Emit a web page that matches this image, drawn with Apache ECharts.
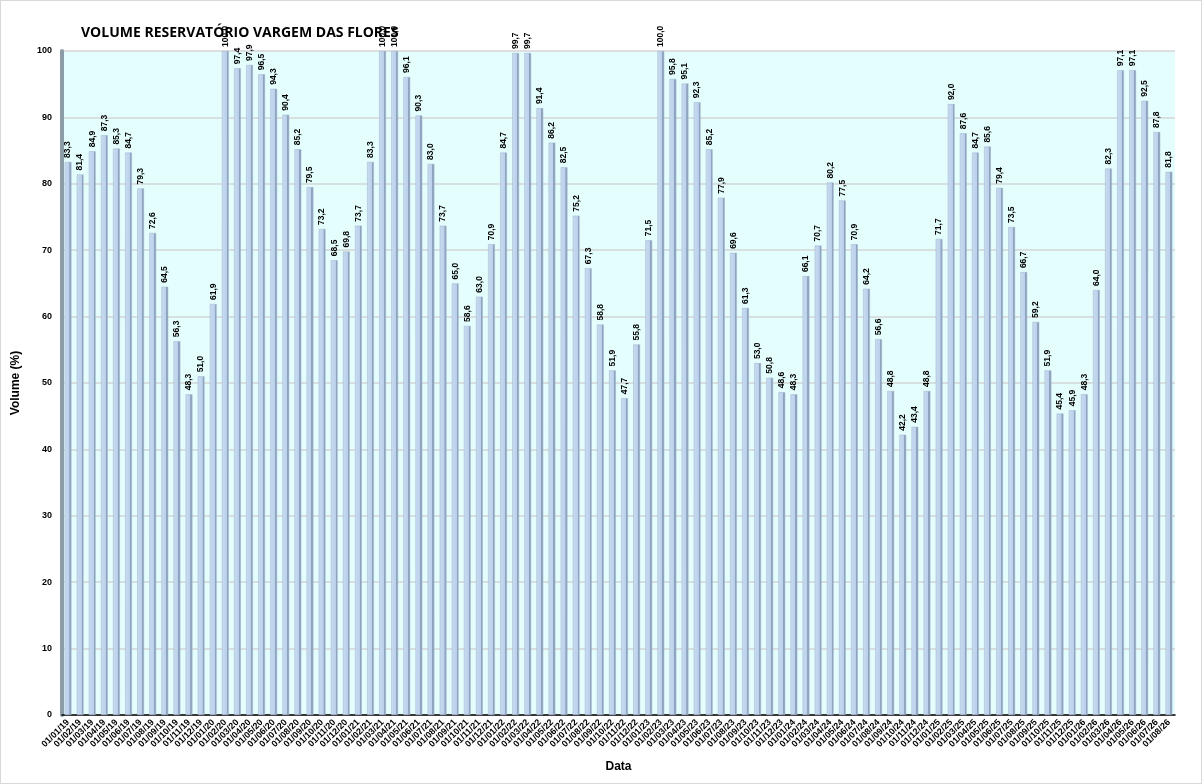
<!DOCTYPE html>
<html>
<head>
<meta charset="utf-8">
<title>Volume Reservatório Vargem das Flores</title>
<script src="https://cdn.jsdelivr.net/npm/echarts@6/dist/echarts.min.js"></script>
<style>
    html, body { margin: 0; padding: 0; background: #fff; }
    #chart { width: 1200px; height: 782px; border: 1px solid #d9d9d9; }
</style>
</head>
<body>
<div id="chart"></div>
<script>
// meses (dia/mês/ano)
var categories = [
    '01/01/19', '01/02/19', '01/03/19', '01/04/19', '01/05/19', '01/06/19', '01/07/19', '01/08/19', '01/09/19', '01/10/19', '01/11/19', '01/12/19',
    '01/01/20', '01/02/20', '01/03/20', '01/04/20', '01/05/20', '01/06/20', '01/07/20', '01/08/20', '01/09/20', '01/10/20', '01/11/20', '01/12/20',
    '01/01/21', '01/02/21', '01/03/21', '01/04/21', '01/05/21', '01/06/21', '01/07/21', '01/08/21', '01/09/21', '01/10/21', '01/11/21', '01/12/21',
    '01/01/22', '01/02/22', '01/03/22', '01/04/22', '01/05/22', '01/06/22', '01/07/22', '01/08/22', '01/09/22', '01/10/22', '01/11/22', '01/12/22',
    '01/01/23', '01/02/23', '01/03/23', '01/04/23', '01/05/23', '01/06/23', '01/07/23', '01/08/23', '01/09/23', '01/10/23', '01/11/23', '01/12/23',
    '01/01/24', '01/02/24', '01/03/24', '01/04/24', '01/05/24', '01/06/24', '01/07/24', '01/08/24', '01/09/24', '01/10/24', '01/11/24', '01/12/24',
    '01/01/25', '01/02/25', '01/03/25', '01/04/25', '01/05/25', '01/06/25', '01/07/25', '01/08/25', '01/09/25', '01/10/25', '01/11/25', '01/12/25',
    '01/01/26', '01/02/26', '01/03/26', '01/04/26', '01/05/26', '01/06/26', '01/07/26', '01/08/26'
];

// volume (%) por ano
var vol2019 = [83.3, 81.4, 84.9, 87.3, 85.3, 84.7, 79.3, 72.6, 64.5, 56.3, 48.3, 51.0];
var vol2020 = [61.9, 100.0, 97.4, 97.9, 96.5, 94.3, 90.4, 85.2, 79.5, 73.2, 68.5, 69.8];
var vol2021 = [73.7, 83.3, 100.0, 100.0, 96.1, 90.3, 83.0, 73.7, 65.0, 58.6, 63.0, 70.9];
var vol2022 = [84.7, 99.7, 99.7, 91.4, 86.2, 82.5, 75.2, 67.3, 58.8, 51.9, 47.7, 55.8];
var vol2023 = [71.5, 100.0, 95.8, 95.1, 92.3, 85.2, 77.9, 69.6, 61.3, 53.0, 50.8, 48.6];
var vol2024 = [48.3, 66.1, 70.7, 80.2, 77.5, 70.9, 64.2, 56.6, 48.8, 42.2, 43.4, 48.8];
var vol2025 = [71.7, 92.0, 87.6, 84.7, 85.6, 79.4, 73.5, 66.7, 59.2, 51.9, 45.4, 45.9];
var vol2026 = [48.3, 64.0, 82.3, 97.1, 97.1, 92.5, 87.8, 81.8];

var volumes = [].concat(vol2019, vol2020, vol2021, vol2022, vol2023, vol2024, vol2025, vol2026);

var yTicks = { min: 0, max: 100, interval: 10 };

var chart = echarts.init(document.getElementById('chart'));

chart.setOption({
    animation: false,
    textStyle: { fontFamily: 'Liberation Sans, Arial, sans-serif' },
    title: {
        text: 'VOLUME RESERVATÓRIO VARGEM DAS FLORES',
        left: 75,
        top: 20,
        textStyle: { fontSize: 14, fontWeight: 'bold', color: '#000', fontFamily: 'Open Sans, sans-serif' }
    },
    grid: {
        left: 61,
        right: 26,
        top: 50,
        bottom: 68,
        show: true,
        backgroundColor: '#e4fefe',
        borderWidth: 0
    },
    xAxis: {
        type: 'category',
        data: categories,
        name: 'Data',
        nameLocation: 'middle',
        nameGap: 46,
        nameTextStyle: { fontSize: 12, fontWeight: 'bold', color: '#000' },
        axisLine: { lineStyle: { color: '#000', width: 1.5 } },
        axisTick: { show: false },
        axisLabel: {
            interval: 0,
            rotate: 45,
            fontSize: 9,
            fontWeight: 'bold',
            color: '#000',
            margin: 6
        }
    },
    yAxis: {
        type: 'value',
        min: yTicks.min,
        max: yTicks.max,
        interval: yTicks.interval,
        name: 'Volume (%)',
        nameLocation: 'middle',
        nameGap: 40,
        nameRotate: 90,
        nameTextStyle: { fontSize: 12, fontWeight: 'bold', color: '#000' },
        axisLine: { show: true, lineStyle: { color: '#8c9ca6', width: 4 } },
        axisTick: { show: false },
        axisLabel: { fontSize: 9, fontWeight: 'bold', color: '#000', margin: 10 },
        splitLine: { lineStyle: { color: '#d4d4d4', width: 1.5 } }
    },
    series: [{
        type: 'bar',
        data: volumes,
        barWidth: '56%',
        itemStyle: {
            color: new echarts.graphic.LinearGradient(0, 0, 1, 0, [
                { offset: 0, color: '#c9dcf2' },
                { offset: 0.7, color: '#bad0ea' },
                { offset: 0.72, color: '#8ea4be' },
                { offset: 1, color: '#8ea4be' }
            ]),
            borderColor: '#9fb3cb',
            borderWidth: 0.5
        },
        label: {
            show: true,
            position: 'top',
            rotate: 90,
            align: 'left',
            verticalAlign: 'middle',
            distance: 4,
            fontSize: 8.5,
            fontWeight: 'bold',
            color: '#000',
            formatter: function(p) {
                return p.value.toFixed(1).replace('.', ',');
            }
        }
    }]
});
</script>
</body>
</html>
